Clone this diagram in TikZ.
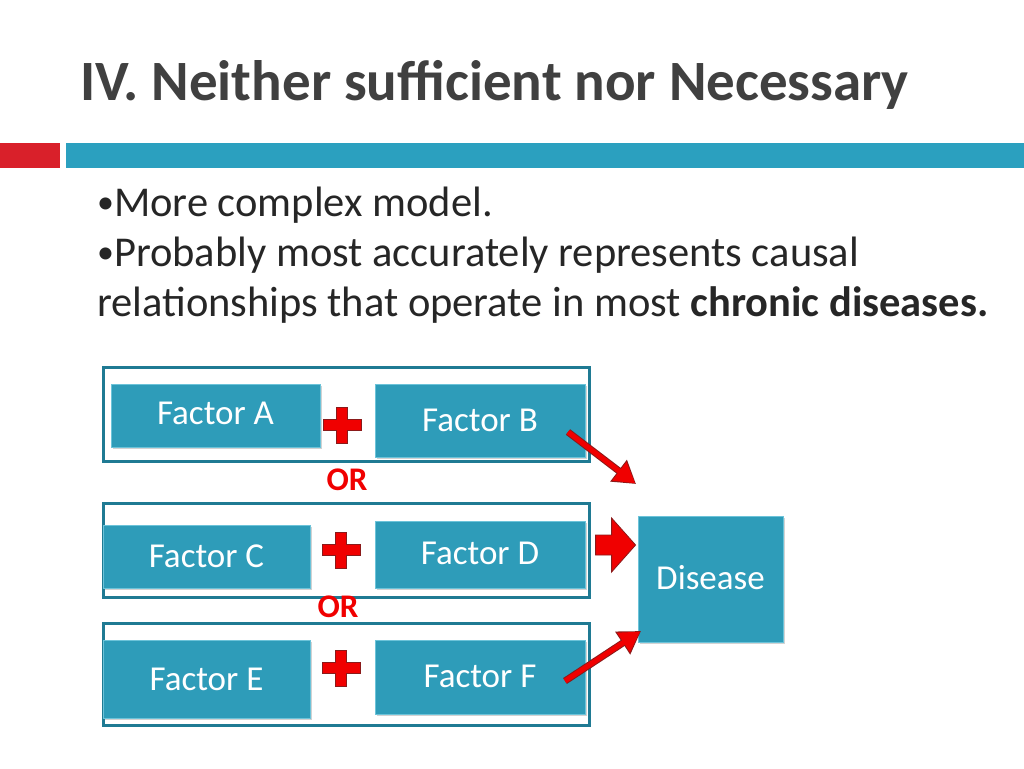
\documentclass[tikz,border=0pt]{standalone}
\usepackage{fontspec}
\setmainfont{Carlito}
\usetikzlibrary{shadows,arrows.meta}
\definecolor{titlegray}{HTML}{404040}
\definecolor{barred}{HTML}{D9202A}
\definecolor{barblue}{HTML}{2BA0BF}
\definecolor{boxfill}{HTML}{2E9CB9}
\definecolor{boxedge}{HTML}{6CC3D9}
\definecolor{frameedge}{HTML}{1F7A93}
\definecolor{arrred}{HTML}{F00000}
\definecolor{arredge}{HTML}{8A1A1A}
\tikzset{
  frame/.style={draw=frameedge, line width=3pt, fill=white},
  factor/.style={draw=boxedge, line width=0.8pt, fill=boxfill, text=white, font=\fontsize{35}{38}\selectfont,
    drop shadow={shadow xshift=1.5pt, shadow yshift=-2pt, opacity=0.35}},
  labeltext/.style={text=white, font=\fontsize{35}{38}\selectfont},
  ortext/.style={text=arrred, font=\bfseries\fontsize{33}{35}\selectfont},
  bullet/.style={anchor=base west, inner sep=0, text=black!85, font=\fontsize{42.5}{46}\selectfont},
  bigarrow/.style={line width=5pt, arrred, -{Triangle[length=20pt,width=22pt]}},
  arrowedge/.style={line width=7pt, arredge, -{Triangle[length=22pt,width=26pt]}},
}
\newcommand{\pluscross}[2]{%
  \fill[arrred, draw=arredge, line width=0.8pt]
    (#1-19,#2-5.5) -- (#1-5.5,#2-5.5) -- (#1-5.5,#2-18) -- (#1+5.5,#2-18) -- (#1+5.5,#2-5.5) -- (#1+19,#2-5.5)
    -- (#1+19,#2+5.5) -- (#1+5.5,#2+5.5) -- (#1+5.5,#2+18) -- (#1-5.5,#2+18) -- (#1-5.5,#2+5.5) -- (#1-19,#2+5.5) -- cycle;}
\newcommand{\mybul}{\raisebox{3pt}{\fontsize{34}{34}\selectfont•}}
\begin{document}
\begin{tikzpicture}[x=1pt,y=-1pt]
\useasboundingbox (0,0) rectangle (1024,768);
% title
\node[anchor=base west, inner sep=0, text=titlegray, font=\bfseries\fontsize{57}{60}\selectfont] (title) at (80,100) {IV. Neither sufficient nor Necessary};
% bars
\fill[barred] (0,143) rectangle (60,168);
\fill[barblue] (66,143) rectangle (1024,168);
% bullets
\node[bullet] (b1) at (97,216) {\mybul More complex model.};
\node[bullet] (b2) at (97,266) {\mybul Probably most accurately represents causal};
\node[bullet] (b3) at (97,316) {relationships that operate in most \textbf{chronic diseases.}};
% frames
\draw[frame] (103,367) rectangle (589,461);
\draw[frame] (103,503) rectangle (589,597);
\draw[frame] (103,623) rectangle (589,725);
% factors
\node[factor, minimum width=209pt, minimum height=63pt] (fa) at (215.5,415.5) {};
\node[labeltext] (fat) at (215.5,413) {Factor A};
\node[factor, minimum width=210pt, minimum height=73pt] (fb) at (480,420.5) {};
\node[labeltext] (fbt) at (480,420) {Factor B};
\node[factor, minimum width=207pt, minimum height=63pt] (fc) at (206.5,556.5) {};
\node[labeltext] (fct) at (206.5,556) {Factor C};
\node[factor, minimum width=210pt, minimum height=67pt] (fd) at (480,554.5) {};
\node[labeltext] (fdt) at (480,553) {Factor D};
\node[factor, minimum width=207pt, minimum height=78pt] (fe) at (206.5,679) {};
\node[labeltext] (fet) at (206.5,679) {Factor E};
\node[factor, minimum width=210pt, minimum height=74pt] (ff) at (480,677) {};
\node[labeltext] (fft) at (480,676) {Factor F};
\node[factor, minimum width=145pt, minimum height=126pt] (dis) at (710.5,579) {};
\node[labeltext] (dist) at (710.5,578) {Disease};
% plus signs
\pluscross{342}{425}
\pluscross{341}{550}
\pluscross{341}{668}
% OR
\node[ortext] (or1) at (347,480) {OR};
\node[ortext] (or2) at (338,607) {OR};
% arrows
\coordinate (a1s) at (568,432);
\coordinate (a1e) at (636,484);
\coordinate (a3s) at (565,681);
\coordinate (a3e) at (641,631);
\draw[arrowedge] (a1s) -- (a1e);
\draw[bigarrow, shorten >=1pt] (a1s) -- (a1e);
\draw[arrowedge] (a3s) -- (a3e);
\draw[bigarrow, shorten >=1pt] (a3s) -- (a3e);
\coordinate (a2tip) at ([xshift=-2pt]dis.west |- 0,545);
\fill[arrred, draw=arredge, line width=0.8pt]
  (a2tip) -- ++(-24,-27) -- ++(0,17) -- ++(-16,0) -- ++(0,20) -- ++(16,0) -- ++(0,17) -- cycle;
\end{tikzpicture}
\end{document}
